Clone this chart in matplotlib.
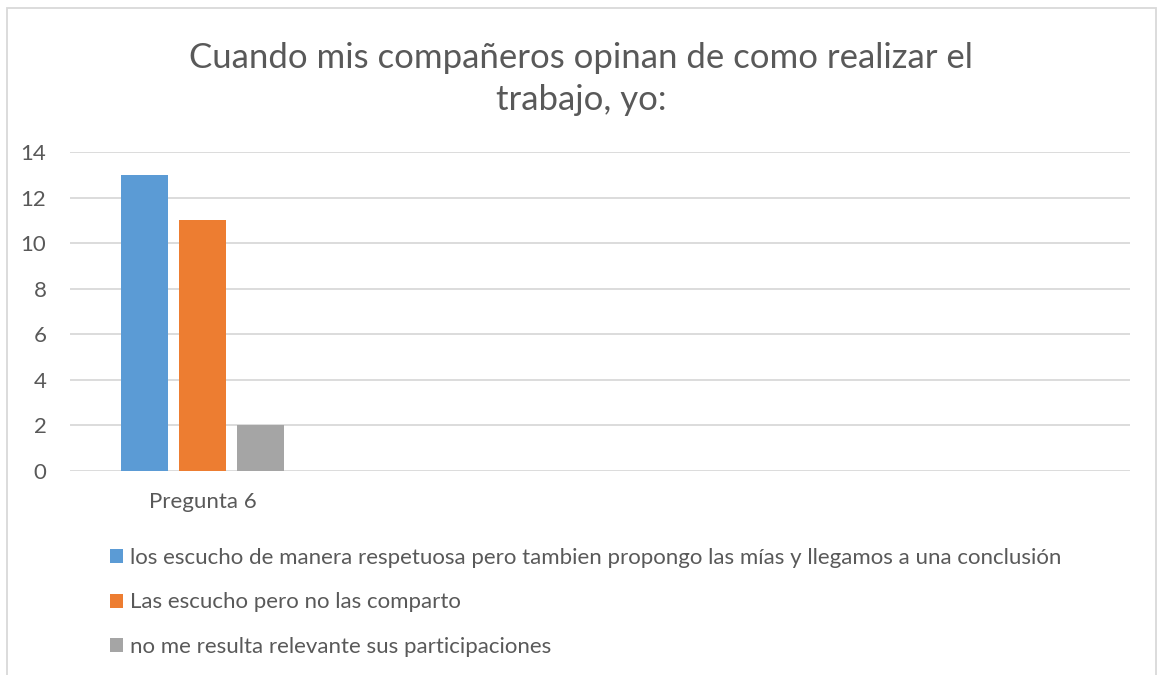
import matplotlib.pyplot as plt
import matplotlib.patches as mpatches
import numpy as np

# datos del gráfico
categorias = ["Pregunta 6", "", "", ""]
series = [
    "los escucho de manera respetuosa pero tambien propongo las mías y llegamos a una conclusión",
    "Las escucho pero no las comparto",
    "no me resulta relevante sus participaciones",
]
valores = [
    [13, np.nan, np.nan, np.nan],
    [11, np.nan, np.nan, np.nan],
    [2, np.nan, np.nan, np.nan],
]
colores = ["#5B9BD5", "#ED7D31", "#A5A5A5"]
titulo = "Cuando mis compañeros opinan de como realizar el\ntrabajo, yo:"

TEXTO = "#595959"
plt.rcParams["font.family"] = ["Lato", "DejaVu Sans"]

fig = plt.figure(figsize=(11.58, 6.75), dpi=100)
ax = fig.add_axes([70 / 1158, 1 - 471 / 675, 1060 / 1158, 319 / 675])

x = np.arange(len(categorias))
ancho = 0.177
offsets = [-0.22, 0.0, 0.22]
handles = []
for vals, off, col, nom in zip(valores, offsets, colores, series):
    b = ax.bar(x + off, vals, width=ancho, color=col, label=nom, zorder=3)
    handles.append(b)

ax.set_xlim(-0.5, len(categorias) - 0.5)
ax.set_ylim(0, 14)
ax.set_yticks(range(0, 15, 2))
ax.set_xticks(x)
ax.set_xticklabels(categorias)
ax.grid(axis="y", color="#D9D9D9", linewidth=1.3, zorder=0)
for s in ax.spines.values():
    s.set_visible(False)
ax.tick_params(length=0, labelsize=16, labelcolor=TEXTO)
ax.tick_params(axis="y", pad=17)
ax.tick_params(axis="x", pad=15)

fig.text(0.502, 1 - 79 / 675, titulo, ha="center", va="center", fontsize=25,
         color=TEXTO, linespacing=1.4)

fig.legend(handles=handles, labels=series, loc="upper left",
           bbox_to_anchor=(110 / 1158, 1 - 548 / 675), frameon=False,
           fontsize=16, labelcolor=TEXTO, handlelength=0.6, handleheight=0.6,
           handletextpad=0.3, labelspacing=1.1, borderpad=0, borderaxespad=0)

# borde del área del gráfico
fig.add_artist(mpatches.Rectangle((7 / 1158, -0.05), 1149 / 1158, 1.05 - 8 / 675,
                                  transform=fig.transFigure, fill=False,
                                  edgecolor="#D9D9D9", linewidth=1.3))

fig.savefig("out.png", dpi=100, facecolor="white")
